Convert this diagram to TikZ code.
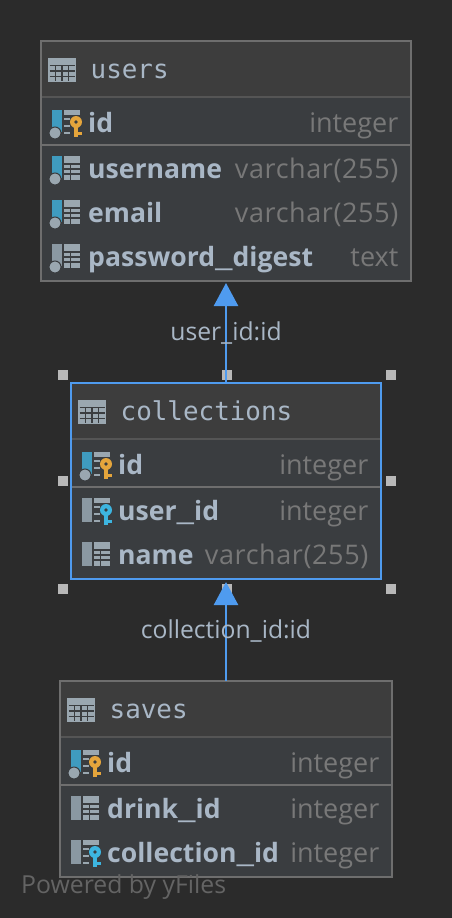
\documentclass[tikz,border=0pt]{standalone}
\usepackage{fontspec}
\setmainfont{Open Sans}
\newfontfamily\titlefont{DejaVu Sans Mono}
\usetikzlibrary{arrows.meta, positioning}

\definecolor{canvas}{HTML}{2B2B2B}
\definecolor{headfill}{HTML}{3D3D3D}
\definecolor{bodyfill}{HTML}{3A3D40}
\definecolor{frame}{HTML}{6E6E6E}
\definecolor{headsep}{HTML}{555555}
\definecolor{picked}{HTML}{4F9BEF}
\definecolor{handlegrey}{HTML}{B8B8B8}
\definecolor{nametext}{HTML}{A9B7C6}
\definecolor{typetext}{HTML}{787878}
\definecolor{footertext}{HTML}{646464}
\definecolor{icongrey}{HTML}{9AA7B0}
\definecolor{barblue}{HTML}{3F9BBF}
\definecolor{bargrey}{HTML}{8A98A2}
\definecolor{keygold}{HTML}{E5A53C}
\definecolor{keyblue}{HTML}{3DB5E0}

\newcommand{\wideus}{\scalebox{1.6}[1]{\_}}
\newcommand{\spacedtype}[1]{{\addfontfeature{LetterSpace=2.2}#1}}

\tikzset{
  dbtable/.style={draw=frame,fill=bodyfill,line width=2pt,inner sep=0pt,outer sep=0pt,minimum height=#1},
  headrow/.style={fill=headfill,inner sep=0pt,outer sep=0pt,minimum height=55pt,anchor=north},
  keyrow/.style={inner sep=0pt,outer sep=0pt,minimum height=48pt,anchor=north},
  colname/.style={anchor=base west,inner sep=0pt,text=nametext,font=\fontsize{26.6}{30}\selectfont\bfseries},
  coltype/.style={anchor=base east,inner sep=0pt,text=typetext,font=\fontsize{27}{30}\selectfont},
  tabletitle/.style={anchor=base west,inner sep=0pt,text=nametext,font=\titlefont\fontsize{25.9}{30}\selectfont},
  handle/.style={fill=handlegrey,inner sep=0pt,minimum size=10pt},
  fkarrow/.style={draw=picked,line width=2.4pt,-{Triangle[width=24pt,length=23pt]}},
  fklabel/.style={text=nametext,inner sep=0pt,yshift=-1.5pt,font=\fontsize{24.7}{28}\selectfont},
  pics/tableicon/.style={code={
    \fill[icongrey] (0,0) rectangle (28,24);
    \foreach \ly in {7.5,13,18.5}
      \draw[bodyfill,line width=1.2pt] (1.5,\ly) -- (26.5,\ly);
    \foreach \lx in {7.5,14,20.5}
      \draw[bodyfill,line width=1.2pt] (\lx,7) -- (\lx,22.5);
  }},
  pics/nullbar/.style={code={
    \fill[#1] (0,-13) rectangle (10,9);
    \fill[icongrey,draw=bodyfill,line width=1pt] (3,10) circle (6);
  }},
  pics/plainbar/.style={code={
    \fill[bargrey] (0,-13) rectangle (10,11);
  }},
  pics/gridicon/.style={code={
    \fill[icongrey] (12,-13) rectangle (28,11);
    \foreach \ly in {-5,0,5}
      \draw[bodyfill,line width=1.2pt] (12,\ly) -- (28,\ly);
    \draw[bodyfill,line width=1.2pt] (18.7,-5) -- (18.7,11);
  }},
  pics/keyicon/.style={code={
    \fill[icongrey] (12,-13) rectangle (28,-8.5);
    \foreach \ly in {-4,3,10}
      \draw[icongrey,line width=2pt] (12,\ly) -- (18,\ly);
    \fill[#1] (24,-1) circle (6);
    \fill[#1] (22,2) rectangle (26,14);
    \fill[#1] (26,9) rectangle (30,12);
    \fill[bodyfill] (24,-1) circle (1.8);
  }}
}

% table, row, centre below the table top, name, type, icons
\newcommand{\colrow}[6]{
  \node[colname] (#1#2) at ([shift={(47,#3+9)}]#1.north west) {#4};
  \node[coltype] (#1#2type) at ([shift={(-12.5,#3+9)}]#1.north east) {#5};
  \begin{scope}[shift={([shift={(11,#3)}]#1.north west)}]
    #6
  \end{scope}
}
% table, width, title
\newcommand{\tablehead}[3]{
  \node[headrow,minimum width=#2-2pt] (#1head) at ([yshift=-1pt]#1.north) {};
  \node[keyrow,minimum width=#2-2pt] (#1key) at (#1head.south) {};
  \draw[headsep,line width=2pt] (#1head.south west) -- (#1head.south east);
  \draw[frame,line width=2pt] (#1key.south west) -- (#1key.south east);
  \pic at ([shift={(7,17)}]#1.north west) {tableicon};
  \node[tabletitle] (#1title) at ([shift={(49.5,37)}]#1.north west) {#3};
}

\begin{document}
\begin{tikzpicture}[x=1pt,y=-1pt,node distance=102pt]
    \fill[canvas] (0,0) rectangle (452,918);
    \useasboundingbox (0,0) rectangle (452,918);

    \node[dbtable=240pt,minimum width=370pt] (users) at (226,161) {};
    \node[dbtable=196pt,minimum width=310pt,draw=picked,below=of users] (collections) {};
    \node[dbtable=196pt,minimum width=332pt,below=of collections] (saves) {};

    \tablehead{users}{370pt}{users}
    \tablehead{collections}{310pt}{collections}
    \tablehead{saves}{332pt}{saves}

    \colrow{users}{id}{82}{id}{integer}{\pic {nullbar=barblue}; \pic {keyicon=keygold};}
    \colrow{users}{username}{128}{username}{\spacedtype{varchar(255)}}{\pic {nullbar=barblue}; \pic {gridicon};}
    \colrow{users}{email}{172}{email}{\spacedtype{varchar(255)}}{\pic {nullbar=barblue}; \pic {gridicon};}
    \colrow{users}{digest}{216}{password\wideus digest}{text}{\pic {nullbar=bargrey}; \pic {gridicon};}

    \colrow{collections}{id}{82}{id}{integer}{\pic {nullbar=barblue}; \pic {keyicon=keygold};}
    \colrow{collections}{userid}{128}{user\wideus id}{integer}{\pic {plainbar}; \pic {keyicon=keyblue};}
    \colrow{collections}{name}{172}{name}{\spacedtype{varchar(255)}}{\pic {plainbar}; \pic {gridicon};}

    \colrow{saves}{id}{82}{id}{integer}{\pic {nullbar=barblue}; \pic {keyicon=keygold};}
    \colrow{saves}{drinkid}{128}{drink\wideus id}{integer}{\pic {plainbar}; \pic {gridicon};}
    \colrow{saves}{collectionid}{172}{collection\wideus id}{integer}{\pic {plainbar}; \pic {keyicon=keyblue};}

    \foreach \hx/\hy [count=\hn] in {63/375,227/375,391/375,63/481,391/481,63/589,227/589,391/589}
      \node[handle] (handle\hn) at (\hx,\hy) {};

    \path (collections.north) edge[fkarrow,shorten >=2pt] node[fklabel] {user\_id:id} (users.south);
    \path (saves.north) edge[fkarrow,shorten >=3pt] node[fklabel] {collection\_id:id} (collections.south);

    \node[anchor=base west,inner sep=0pt,text=footertext,font=\fontsize{24.8}{28}\selectfont] (footer) at (21,893) {Powered by yFiles};
\end{tikzpicture}
\end{document}
